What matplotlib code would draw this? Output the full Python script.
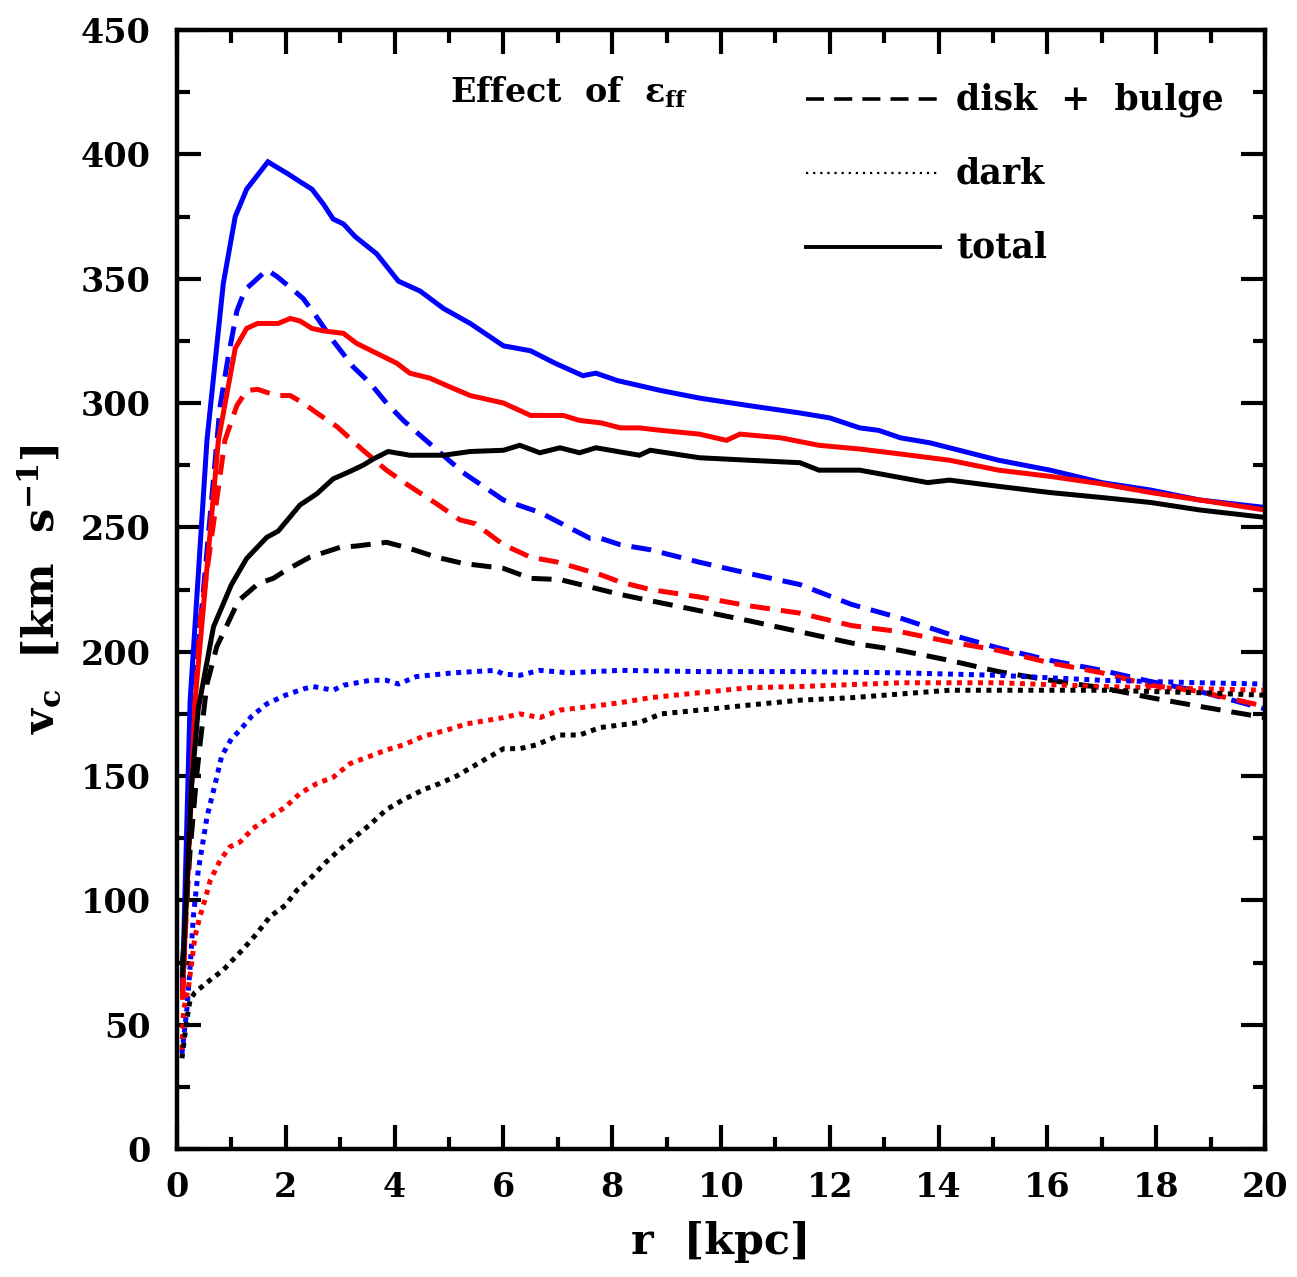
import matplotlib
matplotlib.use("Agg")
import matplotlib.pyplot as plt
from matplotlib.ticker import MultipleLocator

plt.rcParams['font.family'] = 'DejaVu Serif'
plt.rcParams['font.weight'] = 'bold'
plt.rcParams['mathtext.fontset'] = 'custom'
plt.rcParams['mathtext.rm'] = 'DejaVu Serif:bold'
plt.rcParams['mathtext.it'] = 'DejaVu Serif:bold'
plt.rcParams['mathtext.bf'] = 'DejaVu Serif:bold'
plt.rcParams['mathtext.default'] = 'rm'

# ##### Rotation curves: high efficiency (blue), medium (red), low (black)
blue_total_r = [0.1, 0.24, 0.55, 0.85, 1.07, 1.28, 1.67, 2.05, 2.26, 2.48, 2.69, 2.87, 3.06, 3.27, 3.67, 4.07,
                4.47, 4.9, 5.39, 6.0, 6.5, 6.95, 7.46, 7.7, 8.1, 8.5, 8.9, 9.6, 10.5, 11.45, 12.0, 12.55, 12.9,
                13.3, 13.84, 15.1, 16.05, 17.0, 17.9, 18.8, 20.0]
blue_total_v = [65, 180, 285, 348, 375, 386, 397, 392, 389, 386, 380, 374, 372, 367, 360, 349,
                345, 338, 332, 323, 321, 316, 311, 312, 309, 307, 305, 302, 299, 296, 294, 290, 289,
                286, 284, 277, 273, 268, 265, 261, 258]

red_total_r = [0.1, 0.33, 0.76, 1.07, 1.28, 1.48, 1.86, 2.08, 2.26, 2.48, 2.69, 3.06, 3.3, 3.67, 4.04, 4.28,
               4.65, 4.96, 5.39, 6.0, 6.5, 7.1, 7.4, 7.8, 8.15, 8.5, 8.9, 9.6, 10.1, 10.35, 11.1, 11.8, 12.55,
               13.3, 14.2, 15.1, 16.05, 17.0, 17.9, 18.8, 20.0]
red_total_v = [62, 180, 285, 322, 330, 332, 332, 334, 333, 330, 329, 328, 324, 320, 316, 312,
               310, 307, 303, 300, 295, 295, 293, 292, 290, 290, 289, 287.5, 285, 287.5, 286, 283, 281.5,
               279.5, 277, 273, 270.5, 267.5, 264, 261, 257]

black_total_r = [0.1, 0.27, 0.39, 0.67, 1.0, 1.28, 1.65, 1.86, 2.26, 2.57, 2.87, 3.18, 3.42, 3.61, 3.88, 4.28,
                 4.9, 5.39, 6.0, 6.3, 6.67, 7.04, 7.4, 7.7, 8.5, 8.7, 9.6, 10.5, 11.45, 11.8, 12.55, 13.3,
                 13.8, 14.2, 15.1, 16.05, 17.0, 17.9, 18.8, 20.0]
black_total_v = [70, 147, 177, 210, 227, 237.5, 246, 248.5, 259, 263.5, 269.5, 272.5, 275, 277.5, 280.5, 279,
                 279, 280.5, 281, 283, 280, 282, 280, 282, 279, 281, 278, 277, 276, 273, 273, 270,
                 268, 269, 266.5, 264, 262, 260, 257, 254]

blue_disk_r = [0.1, 0.3, 0.79, 0.94, 1.1, 1.25, 1.65, 1.83, 2.08, 2.32, 2.57, 2.87, 3.24, 3.55, 3.85, 4.16,
               4.47, 5.26, 6.0, 6.67, 7.6, 7.8, 8.15, 8.7, 9.6, 10.5, 11.45, 12.4, 13.3, 14.2, 15.1, 16.05,
               17.0, 17.9, 18.8, 20.0]
blue_disk_v = [62, 180, 298.5, 318.5, 337, 345.5, 353.5, 351, 346.5, 342, 334.5, 325, 314.5, 308, 300, 293,
               287, 272, 261, 256, 245.5, 245.5, 243, 241, 236, 231.5, 227, 219, 213.5, 207, 201.5, 196.5,
               192.5, 188, 184, 177]

red_disk_r = [0.1, 0.39, 0.88, 1.1, 1.28, 1.48, 1.83, 2.08, 2.32, 2.57, 2.94, 3.42, 3.85, 4.28, 4.77, 5.2,
              5.48, 6.0, 6.5, 7.0, 7.78, 8.15, 8.7, 9.6, 10.5, 11.45, 12.4, 13.3, 14.2, 15.1, 16.05, 17.0,
              17.9, 18.8, 20.0]
red_disk_v = [60, 207, 285, 299, 305, 305.5, 303, 303, 300, 296, 290.5, 281, 273, 266.5, 259.5, 253,
              251.5, 243, 238, 236, 231, 228, 225, 222, 218.5, 215.5, 210.5, 208, 204, 200.5, 195.5, 191.5,
              186.5, 184, 178]

black_disk_r = [0.1, 0.24, 0.36, 0.48, 0.55, 0.73, 1.13, 1.5, 1.77, 2.02, 2.44, 3.0, 3.3, 3.85, 4.28, 4.77,
                5.26, 6.0, 6.5, 7.04, 7.6, 8.15, 8.7, 9.6, 10.5, 11.45, 12.4, 13.3, 14.2, 15.1, 16.05, 17.0,
                17.9, 18.8, 20.0]
black_disk_v = [75, 120, 150, 174, 187, 202, 220.5, 227.5, 229.5, 233, 238, 242, 242.5, 244, 241.5, 238,
                235.5, 233.5, 229.5, 229, 226, 223, 220.5, 216.5, 212.5, 208, 203.5, 200.5, 196.5, 192, 188.5, 185.5,
                181.5, 178, 173.5]

blue_dark_r = [0.09, 0.18, 0.24, 0.3, 0.39, 0.48, 0.55, 0.64, 0.73, 0.82, 1.0, 1.16, 1.37, 1.65, 1.99, 2.32,
               2.5, 2.87, 3.06, 3.55, 3.85, 4.07, 4.4, 5.08, 5.85, 6.0, 6.3, 6.67, 7.2, 8.15, 9.6, 11.45,
               13.3, 15.1, 17.0, 18.8, 20.0]
blue_dark_v = [38.5, 56, 73, 93.5, 112, 124, 133.5, 141.5, 149.5, 158, 165, 168.5, 174, 179, 182.5, 185,
               186, 184.5, 186.5, 188.5, 188.5, 187, 190, 191.5, 192.5, 191, 190.5, 192.5, 191.5, 192.5, 192, 192,
               191.5, 190.5, 188.5, 187.5, 187]

red_dark_r = [0.09, 0.12, 0.21, 0.33, 0.42, 0.51, 0.61, 0.79, 0.97, 1.16, 1.4, 1.71, 1.99, 2.26, 2.57, 2.87,
              3.18, 3.55, 3.85, 4.16, 4.53, 4.96, 5.33, 6.0, 6.3, 6.67, 7.04, 7.8, 8.15, 8.7, 9.6, 10.5,
              11.45, 13.3, 15.1, 17.0, 20.0]
red_dark_v = [40, 56, 65, 85.5, 93.5, 100, 108, 116, 121.5, 123.5, 129, 133.5, 137.5, 143, 147, 149.5,
              155, 158, 160.5, 162.5, 166, 168.5, 171, 173.5, 175, 173.5, 176.5, 178.5, 179.5, 181.5, 183.5, 185.5,
              186, 187.5, 187.5, 186, 184.5]

black_dark_r = [0.09, 0.18, 0.24, 0.33, 0.61, 0.85, 1.0, 1.22, 1.46, 1.71, 1.99, 2.2, 2.48, 2.72, 2.97, 3.27,
                3.55, 3.7, 3.85, 4.16, 4.53, 4.83, 5.14, 6.0, 6.3, 6.6, 7.04, 7.4, 7.78, 8.5, 8.9, 9.6,
                10.5, 11.45, 12.4, 13.3, 14.2, 15.1, 17.0, 18.8, 20.0]
black_dark_v = [36.5, 52, 60, 63, 68, 72, 75.5, 80.5, 86.5, 93.5, 98, 104, 109.5, 115, 120, 125.5,
                130.5, 133.5, 136.5, 140.5, 144.5, 147, 150, 161, 161, 162.5, 166.5, 166.5, 169.5, 171.5, 175, 176.5,
                178.5, 180.5, 181.5, 183, 184.5, 184.5, 184.5, 183.5, 182.5]

legend_labels = ["disk  +  bulge", "dark", "total"]

lw = 3.6
dash_style = (0, (4.0, 2.2))
dot_style = (0, (1.0, 1.1))


def plotcurves(ax):
    curves = [
        (blue_disk_r, blue_disk_v, "blue", dash_style),
        (red_disk_r, red_disk_v, "red", dash_style),
        (black_disk_r, black_disk_v, "black", dash_style),
        (blue_dark_r, blue_dark_v, "blue", dot_style),
        (red_dark_r, red_dark_v, "red", dot_style),
        (black_dark_r, black_dark_v, "black", dot_style),
        (blue_total_r, blue_total_v, "blue", "-"),
        (red_total_r, red_total_v, "red", "-"),
        (black_total_r, black_total_v, "black", "-"),
    ]
    for r, v, color, ls in curves:
        ax.plot(r, v, color=color, linestyle=ls, linewidth=lw, solid_joinstyle="miter")


def drawlegend(ax):
    # short keys drawn by hand: dashed, dotted, solid
    styles = [((0, (5.0, 2.8)), 2.6), ((0, (1.0, 2.2)), 1.6), ("-", 2.8)]
    ys = [0.938, 0.872, 0.806]
    for label, (ls, width), y in zip(legend_labels, styles, ys):
        ax.plot([0.578, 0.701], [y, y], transform=ax.transAxes, color="black",
                linestyle=ls, linewidth=width, clip_on=False)
        ax.text(0.716, y, label, transform=ax.transAxes, fontsize=25,
                fontweight="bold", va="center", ha="left")
    ax.text(0.251, 0.944, r"Effect  of  $\epsilon_{\rm ff}$", transform=ax.transAxes,
            fontsize=24, fontweight="bold", va="center", ha="left")


def main():
    fig = plt.figure(figsize=(12.97, 12.77), dpi=100)
    ax = fig.add_axes([0.1365, 0.1002, 0.8388, 0.8763])

    plotcurves(ax)
    drawlegend(ax)

    ax.set_xlim(0, 20)
    ax.set_ylim(0, 450)
    ax.xaxis.set_major_locator(MultipleLocator(2))
    ax.xaxis.set_minor_locator(MultipleLocator(1))
    ax.yaxis.set_major_locator(MultipleLocator(50))
    ax.yaxis.set_minor_locator(MultipleLocator(25))
    ax.tick_params(which="both", direction="in", top=True, right=True, width=3)
    ax.tick_params(which="major", length=17, labelsize=24)
    ax.tick_params(axis="x", which="major", pad=16)
    ax.tick_params(axis="y", which="major", pad=19)
    ax.tick_params(which="minor", length=9)
    for spine in ax.spines.values():
        spine.set_linewidth(3.2)

    ax.set_xlabel("r  [kpc]", fontsize=31, fontweight="bold", labelpad=12)
    ax.set_ylabel(r"v$_{\rm c}$  [km  s$^{-1}$]", fontsize=31, fontweight="bold", labelpad=12)

    fig.savefig("out.png", dpi=100)


if __name__ == "__main__":
    main()
